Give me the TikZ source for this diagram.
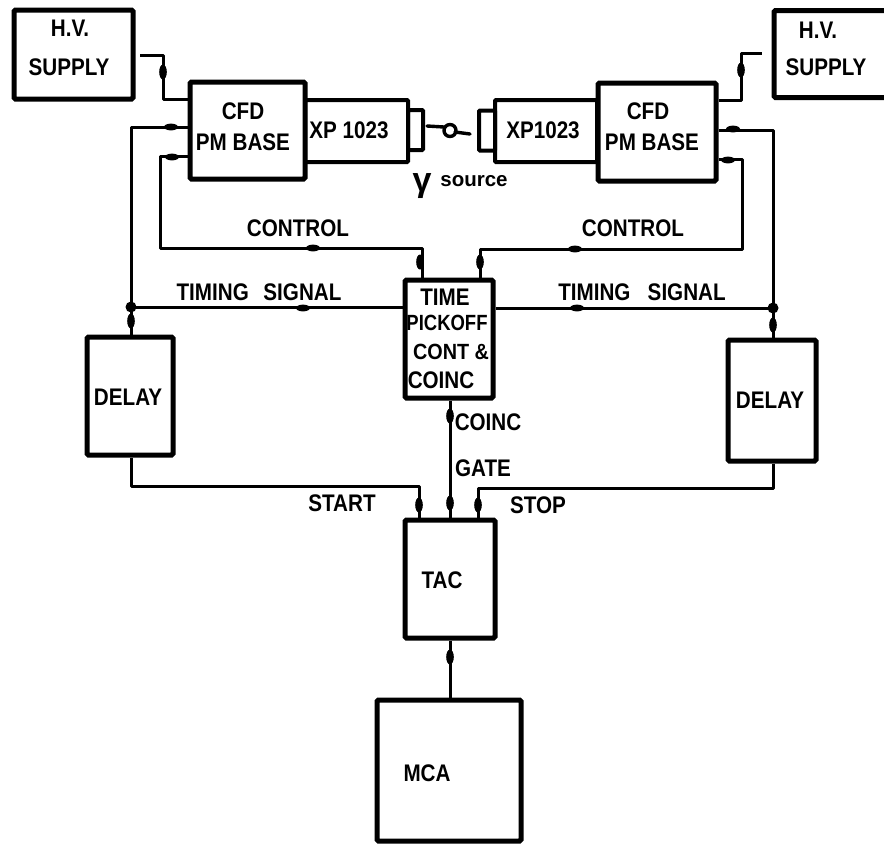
\documentclass[tikz,border=0pt]{standalone}
\usepackage{fontspec}
\setmainfont{Liberation Sans}[BoldFont=Liberation Sans Bold]
\newcommand{\hblob}[2]{\fill (#1,#2) ellipse [x radius=7pt,y radius=3.4pt];}
\newcommand{\vblob}[2]{\fill (#1,#2) ellipse [x radius=3.8pt,y radius=7.5pt];}
\tikzset{
  blk/.style={draw,line width=5pt,rounded corners=1.5pt,inner sep=0pt},
  thin blk/.style={draw,line width=4pt,rounded corners=1pt,inner sep=0pt},
  wire/.style={line width=3pt,line join=round},
  lbl/.style={font=\fontsize{24}{26}\selectfont\bfseries,inner sep=0pt,xscale=0.86},
  tight lbl/.style={lbl,xscale=0.86},
}
\begin{document}
\begin{tikzpicture}[x=1pt,y=-1pt]
\useasboundingbox (0,0) rectangle (884,847);
% boxes
\node[blk,minimum width=119pt,minimum height=89pt] (hvL) at (73.5,54.5) {};
\node[blk,minimum width=116pt,minimum height=87pt] (hvR) at (832,54) {};
\node[thin blk,minimum width=103pt,minimum height=62pt] (xpL) at (356.5,131) {};
\node[thin blk,minimum width=15pt,minimum height=40pt] (capL) at (415.5,130) {};
\node[blk,minimum width=115pt,minimum height=97pt] (cfdL) at (247.5,130.5) {};
\node[thin blk,minimum width=102pt,minimum height=62pt] (xpR) at (546,131) {};
\node[thin blk,minimum width=16pt,minimum height=40pt] (capR) at (487,130.5) {};
\node[blk,minimum width=118pt,minimum height=98pt] (cfdR) at (657,132) {};
\node[blk,minimum width=88pt,minimum height=118pt] (tpo) at (449,339) {};
\node[blk,minimum width=86pt,minimum height=118pt] (dlL) at (130,396) {};
\node[blk,minimum width=88pt,minimum height=121pt] (dlR) at (772,400.5) {};
\node[blk,minimum width=90pt,minimum height=118pt] (tac) at (450,579) {};
\node[blk,minimum width=144pt,minimum height=141pt] (mca) at (449,770.5) {};
% connectors
\coordinate (hvLout) at (140,55);
\coordinate (hvRout) at (762,53);
\draw[wire] (hvLout) -- (163,55) -- (163,99) -- (cfdL.west |- 0,99);
\draw[wire] (cfdL.west |- 0,127) -- (131,127) -- (dlL.north -| 131,0);
\draw[wire] (cfdL.west |- 0,156) -- (160,156) -- (160,248) -- (422,248) -- (tpo.north -| 422,0);
\draw[wire] (131,307) -- (tpo.west |- 0,307);
\draw[wire] (cfdR.east |- 0,100) -- (741,100) -- (741,53) -- (hvRout);
\draw[wire] (cfdR.east |- 0,130) -- (773,130) -- (dlR.north -| 773,0);
\draw[wire] (cfdR.east |- 0,159) -- (742,159) -- (742,249) -- (480,249) -- (tpo.north -| 480,0);
\draw[wire] (tpo.east |- 0,308) -- (773,308);
\draw[wire] (dlL.south -| 131,0) -- (131,486) -- (419,486) -- (tac.north -| 419,0);
\draw[wire] (dlR.south -| 773,0) -- (773,488) -- (478,488) -- (tac.north -| 478,0);
\draw[wire] (tpo.south -| 450,0) -- (tac.north -| 450,0);
\draw[wire] (tac.south -| 450,0) -- (mca.north -| 450,0);
% squiggle (source)
\coordinate (srcA) at (427,126);
\coordinate (srcB) at (470,134);
\draw[line width=3.4pt,line cap=round] (srcA) -- (444,127);
\draw[line width=3.4pt,line cap=round] (450,130.5) circle (6pt);
\draw[line width=3.4pt,line cap=round] (455,132) -- (srcB);
% blobs
\vblob{163}{72}
\hblob{171}{127}
\hblob{172}{157}
\hblob{313}{248}
\hblob{303}{308}
\vblob{420}{262}
\vblob{480}{262}
\hblob{575}{249}
\hblob{577}{308}
\vblob{741}{70}
\hblob{733}{129}
\hblob{728}{160}
\vblob{450}{416}
\vblob{450}{503}
\vblob{419}{505}
\vblob{478}{505}
\vblob{450}{657}
\vblob{131}{321}
\vblob{773}{325}
\fill (131,307) circle (5.5pt);
\fill (773,308) circle (5.5pt);
% labels
\node[lbl] (t1) at (70,28) {H.V.};
\node[lbl] (t2) at (69,67) {SUPPLY};
\node[lbl] (t3) at (818,30) {H.V.};
\node[lbl] (t4) at (826,67) {SUPPLY};
\node[lbl] (t5) at (243,111) {CFD};
\node[lbl] (t6) at (243,142) {PM BASE};
\node[lbl] (t7) at (349,130) {XP 1023};
\node[lbl] (t8) at (648,111) {CFD};
\node[lbl] (t9) at (652,142) {PM BASE};
\node[lbl] (t10) at (543,130) {XP1023};
\node[font=\fontsize{34}{34}\selectfont\bfseries,inner sep=0pt] (t11) at (422,186) {γ};
\node[font=\fontsize{20.5}{22}\selectfont\bfseries,inner sep=0pt] (t12) at (474,181) {source};
\node[lbl] (t13) at (298,228) {CONTROL};
\node[lbl] (t14) at (633,228) {CONTROL};
\node[lbl] (t15) at (259,292) {TIMING\hspace{17pt}SIGNAL};
\node[lbl] (t16) at (642,292) {TIMING\hspace{20pt}SIGNAL};
\node[lbl] (t17) at (445,297) {TIME};
\node[font=\fontsize{22}{24}\selectfont\bfseries,inner sep=0pt,xscale=0.84] (t18) at (447,323) {PICKOFF};
\node[font=\fontsize{22}{24}\selectfont\bfseries,inner sep=0pt,xscale=0.9] (t19) at (451,352) {CONT \&};
\node[lbl] (t20) at (441,380) {COINC};
\node[lbl] (t21) at (488,422) {COINC};
\node[lbl] (t22) at (483,468) {GATE};
\node[lbl] (t23) at (342,503) {START};
\node[lbl] (t24) at (538,505) {STOP};
\node[lbl] (t25) at (128,397) {DELAY};
\node[lbl] (t26) at (770,400) {DELAY};
\node[lbl] (t27) at (442,580) {TAC};
\node[lbl] (t28) at (427,773) {MCA};
\end{tikzpicture}
\end{document}
